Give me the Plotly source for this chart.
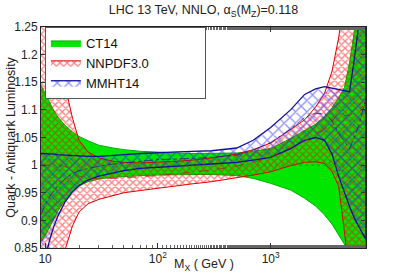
import plotly.graph_objects as go

# Mass grid (GeV)
mx = [9.2, 10, 11, 12, 13, 15, 17.5, 20, 24, 30, 40, 50, 70, 100, 150, 200, 300, 500, 700,
      1000, 1500, 2000, 2500, 3000, 3500, 4000, 4500, 5000, 5500, 6000, 7000]

# CT14 band
ct14_hi = [1.145, 1.13, 1.113, 1.098, 1.087, 1.072, 1.06, 1.052, 1.044, 1.036, 1.031, 1.028, 1.025,
           1.023, 1.022, 1.021, 1.021, 1.022, 1.025, 1.03, 1.048, 1.062, 1.074, 1.088, 1.104, 1.122,
           1.14, 1.185, 1.24, 1.29, 1.38]
ct14_lo = [0.862, 0.872, 0.888, 0.903, 0.917, 0.937, 0.953, 0.962, 0.970, 0.975, 0.978, 0.98, 0.981,
           0.982, 0.983, 0.983, 0.983, 0.981, 0.976, 0.967, 0.955, 0.94, 0.926, 0.91, 0.893, 0.875,
           0.857, 0.83, 0.80, 0.77, 0.72]
ct14_c = [1.0] * 31

# NNPDF3.0 band
nnpdf_hi = [1.30, 1.27, 1.24, 1.215, 1.19, 1.145, 1.085, 1.045, 1.024, 1.013, 1.007, 1.005, 1.004,
            1.005, 1.007, 1.009, 1.013, 1.02, 1.028, 1.04, 1.065, 1.082, 1.105, 1.13, 1.17, 1.23,
            1.30, 1.38, 1.45, 1.5, 1.6]
nnpdf_lo = [0.70, 0.73, 0.76, 0.785, 0.81, 0.85, 0.89, 0.915, 0.93, 0.938, 0.945, 0.95, 0.954,
            0.958, 0.963, 0.966, 0.97, 0.977, 0.982, 0.988, 0.999, 1.005, 1.006, 1.003, 0.988, 0.962,
            0.88, 0.80, 0.74, 0.70, 0.62]
nnpdf_c = [1.0, 1.0, 1.0, 1.0, 1.0, 0.998, 0.988, 0.98, 0.977, 0.975, 0.976, 0.977, 0.979,
           0.981, 0.985, 0.987, 0.991, 0.998, 1.005, 1.014, 1.032, 1.043, 1.055, 1.066, 1.079, 1.096,
           1.09, 1.09, 1.095, 1.1, 1.11]

# MMHT14 band
mmht_hi = [1.021, 1.021, 1.02, 1.02, 1.019, 1.018, 1.017, 1.016, 1.016, 1.016, 1.017, 1.019, 1.021,
           1.023, 1.024, 1.025, 1.026, 1.031, 1.045, 1.068, 1.10, 1.128, 1.138, 1.142, 1.139, 1.136,
           1.134, 1.133, 1.19, 1.25, 1.38]
mmht_lo = [0.80, 0.835, 0.865, 0.89, 0.908, 0.933, 0.952, 0.963, 0.973, 0.98, 0.986, 0.99, 0.994,
           0.997, 0.999, 1.0, 1.002, 1.005, 1.009, 1.014, 1.03, 1.045, 1.05, 1.045, 1.02, 0.98,
           0.95, 0.925, 0.905, 0.89, 0.865]
mmht_c = [0.91, 0.928, 0.943, 0.955, 0.964, 0.975, 0.985, 0.99, 0.994, 0.998, 1.002, 1.004, 1.007,
          1.01, 1.011, 1.012, 1.014, 1.018, 1.027, 1.041, 1.065, 1.086, 1.094, 1.093, 1.08, 1.058,
          1.042, 1.03, 1.05, 1.07, 1.12]

x_ticks = [10, 100, 1000]
x_ticktext = ["10", "10<sup>2</sup>", "10<sup>3</sup>"]
y_ticks = [0.85, 0.9, 0.95, 1.0, 1.05, 1.1, 1.15, 1.2, 1.25]

FONT = "Liberation Sans, Arial, Helvetica, sans-serif"
PAD = "\u00a0" * 14

fig = go.Figure()


def band(name, hi, lo, line_color, width, fill_kw):
    fig.add_trace(go.Scatter(
        x=mx + mx[::-1], y=hi + lo[::-1], mode="lines", fill="toself",
        line=dict(color=line_color, width=width), name=name,
        hoverinfo="skip", **fill_kw))


band("CT14", ct14_hi, ct14_lo, "#00b000", 1.0,
     dict(fillcolor="#00e600"))
band("NNPDF3.0" + PAD, nnpdf_hi, nnpdf_lo, "#e00000", 1.0,
     dict(fillcolor="rgba(0,0,0,0)",
          fillpattern=dict(shape="x", fgcolor="#ff0000", bgcolor="rgba(0,0,0,0)",
                           size=5, solidity=0.45)))
band("MMHT14", mmht_hi, mmht_lo, "#10109a", 1.3,
     dict(fillcolor="rgba(0,0,0,0)",
          fillpattern=dict(shape="x", fgcolor="#2020ff", bgcolor="rgba(0,0,0,0)",
                           size=8, solidity=0.3)))

# central lines
fig.add_trace(go.Scatter(x=mx, y=ct14_c, mode="lines", showlegend=False,
                         line=dict(color="#4a6a4a", width=0.8, dash="dot"), hoverinfo="skip"))
fig.add_trace(go.Scatter(x=mx, y=nnpdf_c, mode="lines", showlegend=False,
                         line=dict(color="#b02020", width=0.8, dash="dash"), hoverinfo="skip"))
fig.add_trace(go.Scatter(x=mx, y=mmht_c, mode="lines", showlegend=False,
                         line=dict(color="#202090", width=0.8, dash="dashdot"), hoverinfo="skip"))

fig.update_layout(
    width=407, height=276,
    margin=dict(l=41, r=41, t=27, b=28, autoexpand=False),
    paper_bgcolor="white", plot_bgcolor="white",
    font=dict(family=FONT, size=12, color="#222"),
    title=dict(text="LHC 13 TeV, NNLO, α<sub>S</sub>(M<sub>Z</sub>)=0.118",
               x=0.5, xref="paper", xanchor="center", y=0.965, yanchor="middle",
               font=dict(size=12.5, color="#222")),
    showlegend=True,
    legend=dict(x=0.012, y=1.0, xanchor="left", yanchor="top",
                bgcolor="white", bordercolor="#555", borderwidth=1,
                font=dict(size=13, color="#111"), itemwidth=30),
    xaxis=dict(type="log", range=[0.9638, 3.8451], tickvals=x_ticks, ticktext=x_ticktext,
               ticks="inside", ticklen=5, tickcolor="#333", showline=True, linecolor="#222",
               linewidth=1, mirror="ticks", showgrid=False, zeroline=False,
               tickfont=dict(size=12),
               minor=dict(ticks="inside", ticklen=3, tickcolor="#666", showgrid=False)),
    yaxis=dict(range=[0.85, 1.25], tickvals=y_ticks, ticks="inside", ticklen=5,
               tickcolor="#333", showline=True, linecolor="#222", linewidth=1,
               mirror="ticks", showgrid=False, zeroline=False, tickfont=dict(size=12)),
    annotations=[
        dict(text="M<sub>X</sub> ( GeV )", xref="paper", yref="paper", x=0.5, y=-0.077,
             xanchor="center", yanchor="middle", showarrow=False, font=dict(size=12.5)),
        dict(text="Quark - Antiquark Luminosity", xref="paper", yref="paper", x=-0.095, y=0.5,
             xanchor="center", yanchor="middle", textangle=-90, showarrow=False,
             font=dict(size=12.5)),
    ],
)

fig.write_html("out.html", config={"displayModeBar": False},
               post_script="document.body.style.margin='0';document.body.style.overflow='hidden';")
